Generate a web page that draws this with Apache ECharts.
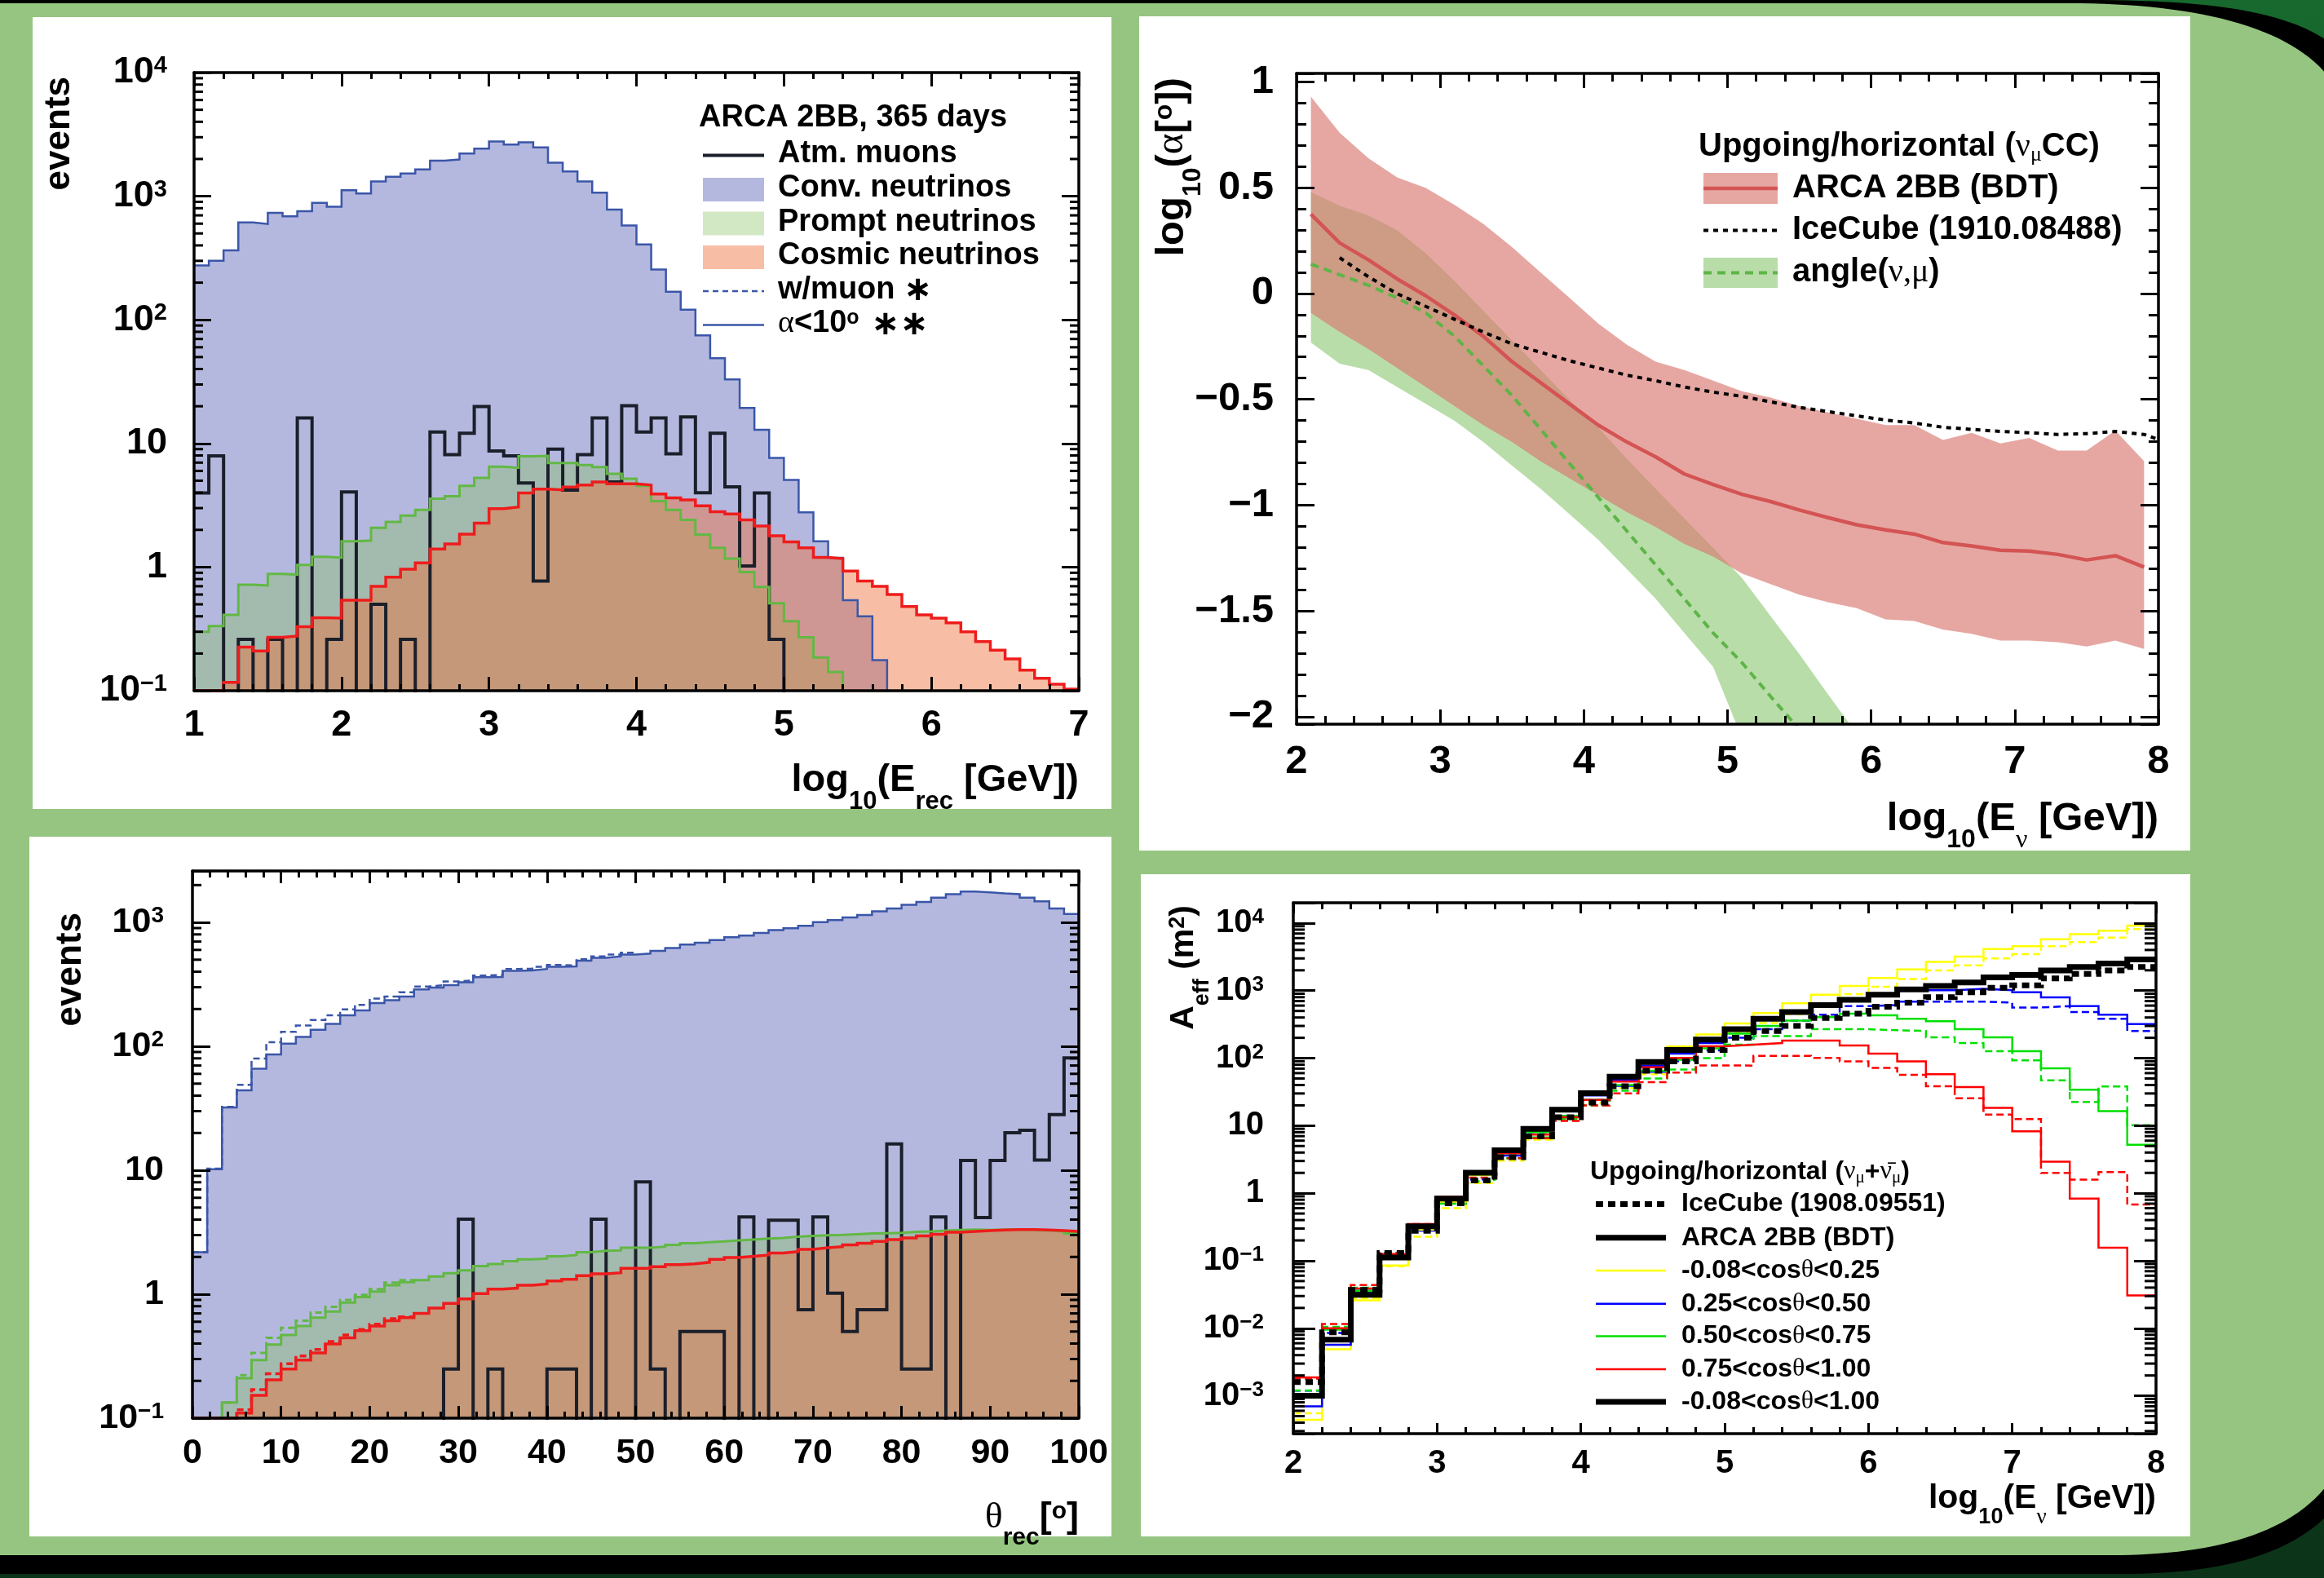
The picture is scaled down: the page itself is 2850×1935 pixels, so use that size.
<!DOCTYPE html>
<html>
<head>
<meta charset="utf-8">
<title>ARCA 2BB performance</title>
<script src="https://cdn.jsdelivr.net/npm/echarts@6.0.0/dist/echarts.min.js"></script>
<style>
  html, body { margin: 0; padding: 0; background: #95c580; }
  #chart { width: 2850px; height: 1935px; }
</style>
</head>
<body>
<div id="chart"></div>
<script>
// Four ROOT-style panels on one ECharts instance: each panel is a grid with a bottom/top x axis
// and left/right y axis so the frame carries inward ticks on all four sides like the original.
const FONT = 'Liberation Sans';
const GREEK = 'Liberation Serif';
const INK = '#000';

// ---- A (top left): events vs log10(E_rec), 60 bins on [1, 7] ----
const erecRange = [1, 7];
const erecConv = [275, 300, 365, 614, 596, 734, 687, 757, 885, 822,
  1117, 1052, 1316, 1439, 1528, 1645, 1937, 1982, 2218, 2427,
  2775, 2614, 2731, 2478, 1868, 1585, 1316, 1068, 780, 579,
  407, 255, 169, 121, 75, 49, 33, 19.4, 12.9, 7.65,
  5.08, 2.77, 1.62, 1.19, 0.54, 0.40, 0.177, 0, 0, 0,
  0, 0, 0, 0, 0, 0, 0, 0, 0, 0];
const erecPrompt = [0.30, 0.333, 0.41, 0.72, 0.71, 0.88, 0.87, 1.04, 1.21, 1.19,
  1.62, 1.64, 2.08, 2.32, 2.61, 2.90, 3.57, 3.74, 4.54, 5.27,
  6.49, 6.35, 7.88, 7.94, 6.95, 6.95, 6.69, 6.45, 5.68, 5.19,
  4.54, 3.42, 2.90, 2.41, 1.83, 1.43, 1.17, 0.91, 0.69, 0.51,
  0.365, 0.27, 0.186, 0.142, 0, 0, 0, 0, 0, 0,
  0, 0, 0, 0, 0, 0, 0, 0, 0, 0];
const erecCosmic = [0.1, 0.1, 0.117, 0.225, 0.21, 0.27, 0.277, 0.33, 0.39, 0.387,
  0.54, 0.54, 0.70, 0.83, 0.96, 1.08, 1.40, 1.54, 1.85, 2.27,
  2.97, 3.06, 3.97, 4.28, 4.21, 4.44, 4.61, 4.89, 4.71, 4.71,
  4.61, 3.91, 3.63, 3.50, 3.13, 2.80, 2.69, 2.41, 2.15, 1.79,
  1.60, 1.43, 1.20, 1.17, 0.93, 0.77, 0.70, 0.60, 0.48, 0.41,
  0.387, 0.354, 0.30, 0.25, 0.213, 0.181, 0.147, 0.126, 0.113, 0.103];
const erecMuons = [3.97, 7.94, 0, 0.26, 0, 0.26, 0, 16.1, 0, 0.26,
  4.05, 0, 0.50, 0, 0.26, 0, 12.4, 8.12, 12.1, 19.9,
  8.69, 7.94, 4.79, 0.77, 9.0, 4.2, 8.12, 16.1, 4.89, 20.2,
  12.4, 16.1, 8.24, 16.4, 4.0, 12.1, 4.46, 1.02, 3.97, 0.26,
  0, 0, 0, 0, 0, 0, 0, 0, 0, 0,
  0, 0, 0, 0, 0, 0, 0, 0, 0, 0];

// ---- C (bottom left): events vs reconstructed zenith, 60 bins on [0, 100] deg ----
const thetaRange = [0, 100];
const thetaConv = [2.18, 10.2, 32.1, 44.2, 66, 86, 105, 119, 136, 152,
  178, 195, 223, 236, 252, 288, 298, 312, 329, 361,
  363, 407, 410, 421, 438, 441, 491, 518, 532, 550,
  561, 588, 620, 663, 686, 719, 759, 784, 822, 867,
  896, 939, 1004, 1045, 1096, 1148, 1227, 1295, 1384, 1460,
  1581, 1691, 1773, 1750, 1715, 1691, 1581, 1479, 1295, 1171];
// "w/muon" variants, only where they separate from the alpha<10 curves
const thetaConvMu = [2.18, 10.3, 32.5, 48.9, 79.6, 108, 131, 147, 163, 178,
  199, 216, 243, 252, 273, 304, 312, 334, 340, 373,
  376, 421, 424, 438, 453, 450, 504, 532, 550, 569];
const thetaPrompt = [0, 0, 0.134, 0.210, 0.294, 0.392, 0.469, 0.554, 0.647, 0.725,
  0.857, 0.947, 1.05, 1.18, 1.25, 1.30, 1.39, 1.48, 1.56, 1.69,
  1.75, 1.85, 1.91, 1.94, 2.02, 2.07, 2.18, 2.24, 2.26, 2.37,
  2.37, 2.42, 2.50, 2.58, 2.63, 2.67, 2.72, 2.76, 2.81, 2.85,
  2.91, 2.95, 2.99, 3.01, 3.05, 3.09, 3.11, 3.13, 3.19, 3.21,
  3.26, 3.30, 3.32, 3.30, 3.32, 3.34, 3.30, 3.26, 3.21, 3.09];
const thetaPromptMu = [0, 0, 0.134, 0.222, 0.336, 0.445, 0.536, 0.612, 0.710, 0.79, 0.90, 0.99, 1.10, 1.24, 1.30];
const thetaCosmic = [0.1, 0.1, 0.1, 0.110, 0.153, 0.204, 0.249, 0.294, 0.336, 0.397,
  0.445, 0.508, 0.554, 0.612, 0.647, 0.70, 0.774, 0.845, 0.916, 1.01,
  1.10, 1.12, 1.18, 1.21, 1.28, 1.32, 1.41, 1.46, 1.49, 1.62,
  1.62, 1.67, 1.73, 1.76, 1.81, 1.91, 1.98, 2.02, 2.07, 2.15,
  2.21, 2.30, 2.37, 2.42, 2.50, 2.58, 2.67, 2.76, 2.85, 2.95,
  3.05, 3.16, 3.21, 3.26, 3.30, 3.32, 3.32, 3.30, 3.26, 3.21];
const thetaCosmicMu = [0.1, 0.1, 0.1, 0.117, 0.170, 0.228, 0.275, 0.318, 0.359, 0.416, 0.469, 0.519, 0.574, 0.634, 0.658];
const thetaMuons = [0, 0, 0, 0, 0, 0, 0, 0, 0, 0,
  0, 0, 0, 0, 0, 0, 0, 0.249, 4.03, 0,
  0.249, 0, 0, 0, 0.249, 0.249, 0, 4.03, 0, 0,
  8.05, 0.249, 0, 0.5, 0.5, 0.5, 0, 4.2, 0, 3.95,
  3.95, 0.75, 4.2, 1.02, 0.5, 0.75, 0.75, 16.3, 0.249, 0.249,
  4.2, 0, 12.0, 4.15, 12.0, 20.1, 21.0, 12.1, 28.1, 80.5];

// ---- B (top right): log10(alpha/deg) vs log10(E_nu) ----
const resE = [2.1, 2.3, 2.5, 2.7, 2.9, 3.1, 3.3, 3.5, 3.7, 3.9, 4.1, 4.3, 4.5, 4.7, 4.9,
  5.1, 5.3, 5.5, 5.7, 5.9, 6.1, 6.3, 6.5, 6.7, 6.9, 7.1, 7.3, 7.5, 7.7, 7.9];
const arcaMedian = [0.375, 0.239, 0.159, 0.069, -0.011, -0.102, -0.202, -0.322, -0.422, -0.522,
  -0.622, -0.702, -0.772, -0.853, -0.903, -0.949, -0.983, -1.023, -1.059, -1.093,
  -1.117, -1.137, -1.177, -1.193, -1.213, -1.217, -1.233, -1.259, -1.239, -1.293];
const arcaUpper = [0.930, 0.760, 0.639, 0.549, 0.499, 0.419, 0.329, 0.219, 0.099, -0.021,
  -0.142, -0.242, -0.322, -0.362, -0.412, -0.462, -0.492, -0.532, -0.562, -0.592,
  -0.622, -0.622, -0.692, -0.658, -0.708, -0.682, -0.742, -0.742, -0.648, -0.792];
const arcaLower = [-0.092, -0.182, -0.262, -0.352, -0.442, -0.532, -0.622, -0.702, -0.793, -0.873,
  -0.953, -1.033, -1.103, -1.183, -1.243, -1.323, -1.373, -1.423, -1.459, -1.487,
  -1.540, -1.548, -1.588, -1.608, -1.640, -1.640, -1.648, -1.668, -1.640, -1.680];
// angle(nu, mu) band uses the first 20 energies, its median the first 18
const angleUpper = [0.479, 0.415, 0.369, 0.299, 0.189, 0.059, -0.082, -0.222, -0.362, -0.502,
  -0.632, -0.782, -0.923, -1.063, -1.203, -1.343, -1.524, -1.704, -1.894, -2.08];
const angleLower = [-0.232, -0.332, -0.362, -0.442, -0.522, -0.602, -0.702, -0.813, -0.923, -1.043,
  -1.163, -1.303, -1.443, -1.604, -1.764, -2.10, -2.30, -2.50, -2.70, -2.90];
const angleMedian = [0.139, 0.089, 0.039, -0.021, -0.092, -0.202, -0.342, -0.482, -0.642, -0.803,
  -0.963, -1.123, -1.283, -1.443, -1.604, -1.744, -1.904, -2.06];
const icecubeResE = [2.3, 2.5, 2.7, 2.9, 3.1, 3.3, 3.5, 3.7, 3.9, 4.1, 4.3, 4.5, 4.7, 4.9, 5.1,
  5.3, 5.5, 5.7, 5.9, 6.1, 6.3, 6.5, 6.7, 6.9, 7.1, 7.3, 7.5, 7.7, 7.9, 8.0];
const icecubeRes = [0.169, 0.079, -0.001, -0.061, -0.122, -0.182, -0.238, -0.278, -0.318, -0.352,
  -0.386, -0.412, -0.442, -0.466, -0.486, -0.512, -0.538, -0.558, -0.578, -0.598,
  -0.612, -0.632, -0.642, -0.652, -0.658, -0.666, -0.662, -0.652, -0.666, -0.69];

// ---- D (bottom right): effective area (m^2), 30 bins on [2, 8] ----
const aeffRange = [2, 8];
const aeffIceAll = [1.6e-3, 8.7e-3, 0.037, 0.130, 0.277, 0.71, 1.55, 3.41, 6.93, 13.3,
  22.0, 38.3, 65.1, 89.5, 132, 200, 253, 301, 395, 455, 577, 664, 802, 946, 1103, 1197, 1516, 1767, 1990, 2239];
const aeffArcaAll = [1.0e-3, 6.8e-3, 0.0313, 0.112, 0.323, 0.83, 2.01, 4.32, 8.98, 17.2,
  30.3, 53.3, 87.5, 132, 188, 268, 382, 483, 612, 730, 871, 1040, 1170, 1316, 1570, 1706, 1990, 2239, 2518, 2897];
const aeffYellow = [4.4e-4, 4.9e-3, 0.026, 0.085, 0.29, 0.75, 1.85, 4.0, 8.5, 17,
  31, 55, 93, 149, 224, 327, 466, 649, 871, 1170, 1535, 2061, 2672, 3186, 4130, 4538, 5747, 6860, 7710, 9210];
const aeffYellowIce = [5.5e-4, 5.7e-3, 0.028, 0.083, 0.227, 0.60, 1.41, 3.03, 6.2, 12.5,
  21.7, 36, 58, 93, 140, 240, 330, 450, 650, 891, 1142, 1481, 1990, 2373, 3004, 3459, 4538, 5228, 6095, 8185];
const aeffBlue = [7.0e-4, 5.7e-3, 0.033, 0.119, 0.32, 0.83, 2.0, 4.3, 9.0, 17,
  28, 48, 77.6, 117, 167, 268, 369, 483, 634, 730, 871, 1016, 1016, 1064, 1016, 946, 793, 590, 440, 320];
const aeffBlueIce = [1.19e-3, 8.5e-3, 0.036, 0.13, 0.28, 0.71, 1.6, 3.6, 7.5, 13.8,
  24, 39, 63, 90, 130, 200, 268, 360, 440, 590, 611, 688, 688, 688, 664, 563, 590, 483, 382, 253];
const aeffGreen = [1.0e-3, 9.5e-3, 0.036, 0.12, 0.31, 0.85, 1.9, 3.9, 8, 14,
  24, 40, 65, 95, 140, 230, 300, 360, 405, 455, 430, 382, 352, 268, 204, 127, 70.6, 34, 16.4, 5.2];
const aeffGreenIce = [1.2e-3, 0.0105, 0.040, 0.13, 0.30, 0.70, 1.5, 3.3, 6.7, 12.5,
  20, 33, 50, 68, 100, 158, 212, 212, 268, 268, 259, 253, 204, 167, 127, 93, 47, 22.5, 38, 10.2];
const aeffRed = [1.87e-3, 0.010, 0.0387, 0.126, 0.35, 0.88, 2.0, 3.9, 7.4, 13.3,
  24, 45, 73, 101, 150, 158, 167, 182, 182, 154, 117, 89.5, 57.8, 37.4, 18.4, 8.28, 2.93, 0.83, 0.156, 0.0306];
const aeffRedIce = [1.8e-3, 0.0116, 0.0436, 0.13, 0.35, 0.78, 1.7, 3.3, 6.5, 11.8,
  20, 30, 44, 61, 78, 77.6, 108, 108, 101, 89.5, 71.6, 56.5, 38.3, 25.4, 14.6, 12.5, 2.0, 1.59, 2.05, 0.68];

// Plot frames in page pixels, A B C D
const frames = [
  {left: 238, top: 89, width: 1085, height: 758},
  {left: 1590, top: 90, width: 1057, height: 798},
  {left: 236, top: 1068, width: 1087, height: 671},
  {left: 1586, top: 1107, width: 1058, height: 651}
];
const resYRange = [-2.035, 1.04];

function binEdges(range, n) {
  const w = (range[1] - range[0]) / n;
  return Array.from({length: n + 1}, (_, i) => +(range[0] + i * w).toFixed(6));
}
// ROOT histogram outline: step from each low edge, repeat the last value at the upper edge.
// Empty bins go far below the log axis so the outline drops out of the frame.
function stepData(edges, vals) {
  const pts = vals.map((v, i) => [edges[i], v > 0 ? v : 1e-6]);
  pts.push([edges[vals.length], pts[pts.length - 1][1]]);
  return pts;
}
function hist(gi, edges, vals, o) {
  const s = {
    type: 'line', xAxisIndex: 2 * gi, yAxisIndex: 2 * gi, step: 'end', symbol: 'none',
    data: stepData(edges, vals), silent: true, clip: true,
    lineStyle: {color: o.color, width: o.width, type: o.dash || 'solid', join: 'miter', cap: 'butt'}
  };
  if (o.fill) s.areaStyle = {color: o.fill, opacity: 1, origin: 'start'};
  return s;
}
const zip = (xs, ys) => ys.map((y, i) => [xs[i], y]);
function curve(gi, xs, ys, o) {
  return {type: 'line', xAxisIndex: 2 * gi, yAxisIndex: 2 * gi, data: zip(xs, ys), symbol: 'none',
    silent: true, clip: true, lineStyle: {color: o.color, width: o.width, type: o.dash || 'solid'}};
}
// cut a data-space polygon at the bottom of the frame (Sutherland-Hodgman, one edge)
function clipBelow(poly, ymin) {
  const out = [];
  for (let i = 0; i < poly.length; i++) {
    const a = poly[i], b = poly[(i + 1) % poly.length];
    const aIn = a[1] >= ymin, bIn = b[1] >= ymin;
    if (aIn) out.push(a);
    if (aIn !== bIn) {
      const t = (ymin - a[1]) / (b[1] - a[1]);
      out.push([a[0] + t * (b[0] - a[0]), ymin]);
    }
  }
  return out;
}
// filled band between two curves, drawn as one polygon through the axis scales
function band(gi, xs, lo, hi, fill) {
  const poly = clipBelow(zip(xs, hi).concat(zip(xs, lo).reverse()), resYRange[0]);
  return {
    type: 'custom', xAxisIndex: 2 * gi, yAxisIndex: 2 * gi, silent: true, clip: true,
    data: [[xs[0], hi[0]]],
    renderItem: (params, api) => ({
      type: 'polygon', shape: {points: poly.map(p => api.coord(p))}, style: {fill}
    })
  };
}
// ROOT log axes carry minor ticks at 2..9 x 10^n on both sides
function logMinorTicks(gi, xr, yr, len) {
  const data = [];
  for (let e = Math.floor(Math.log10(yr[0])); e < Math.ceil(Math.log10(yr[1])); e++) {
    for (let k = 2; k <= 9; k++) {
      const v = k * Math.pow(10, e);
      if (v > yr[0] && v < yr[1]) data.push([xr[0], v]);
    }
  }
  return {
    type: 'custom', xAxisIndex: 2 * gi, yAxisIndex: 2 * gi, data, z: 12, silent: true,
    renderItem: (p, api) => {
      const a = api.coord([xr[0], api.value(1)]);
      const b = api.coord([xr[1], api.value(1)]);
      const st = {stroke: INK, lineWidth: 3};
      return {type: 'group', children: [
        {type: 'line', shape: {x1: a[0], y1: a[1], x2: a[0] + len, y2: a[1]}, style: st},
        {type: 'line', shape: {x1: b[0], y1: b[1], x2: b[0] - len, y2: b[1]}, style: st}
      ]};
    }
  };
}

// ---- axes ----
const axisLine = {show: true, onZero: false, lineStyle: {color: INK, width: 3.5}};
function xPair(gi, o) {
  const base = {
    gridIndex: gi, type: 'value', min: o.min, max: o.max, interval: o.interval, z: 10,
    axisLine, splitLine: {show: false},
    axisTick: {show: true, inside: true, length: o.tick, lineStyle: {color: INK, width: 3}},
    minorTick: {show: true, splitNumber: o.minor, length: o.minorTick, lineStyle: {color: INK, width: 3}}
  };
  return [
    Object.assign({}, base, {position: 'bottom', axisLabel: {show: true, margin: o.margin, color: INK,
      fontFamily: FONT, fontWeight: 'bold', fontSize: o.font}}),
    Object.assign({}, base, {position: 'top', axisLabel: {show: false}})
  ];
}
function powFmt(v) {
  const l = Math.log10(v), e = Math.round(l);
  if (Math.abs(l - e) > 1e-6) return '';
  if (e === 0) return '{b|1}';
  if (e === 1) return '{b|10}';
  return '{b|10}{s|' + (e < 0 ? '\u2212' + (-e) : e) + '}';
}
function powRich(F) {
  return {
    b: {fontSize: F, fontFamily: FONT, fontWeight: 'bold', color: INK, lineHeight: F, verticalAlign: 'bottom'},
    s: {fontSize: Math.round(F * 0.64), fontFamily: FONT, fontWeight: 'bold', color: INK,
      lineHeight: Math.round(F * 0.42), verticalAlign: 'top'}
  };
}
function yPair(gi, o) {
  const base = {
    gridIndex: gi, type: o.log ? 'log' : 'value', min: o.min, max: o.max, splitNumber: o.split, z: 10,
    axisLine, splitLine: {show: false},
    axisTick: {show: true, inside: true, length: o.tick, lineStyle: {color: INK, width: 3}},
    minorTick: o.log ? {show: false}
      : {show: true, splitNumber: 5, length: o.minorTick, lineStyle: {color: INK, width: 3}}
  };
  if (o.log) base.logBase = 10;
  const label = o.log
    ? {show: true, margin: o.margin, formatter: powFmt, rich: powRich(o.font)}
    : {show: true, margin: o.margin, color: INK, fontFamily: FONT, fontWeight: 'bold', fontSize: o.font,
       formatter: v => Math.abs(v * 2 - Math.round(v * 2)) > 1e-6 ? '' : (v < 0 ? '\u2212' + (-v) : String(v))};
  return [
    Object.assign({}, base, {position: 'left', axisLabel: label}),
    Object.assign({}, base, {position: 'right', axisLabel: {show: false}})
  ];
}

const xAxis = [].concat(
  xPair(0, {min: 1, max: 7, interval: 1, minor: 5, tick: 17, minorTick: 8, margin: 20, font: 45}),
  xPair(1, {min: 2, max: 8, interval: 1, minor: 5, tick: 18, minorTick: 10, margin: 22, font: 49}),
  xPair(2, {min: 0, max: 100, interval: 10, minor: 5, tick: 15, minorTick: 8, margin: 22, font: 43}),
  xPair(3, {min: 2, max: 8, interval: 1, minor: 5, tick: 13, minorTick: 8, margin: 17, font: 40})
);
const yAxis = [].concat(
  yPair(0, {log: true, min: 0.1, max: 1e4, split: 5, tick: 21, margin: 33, font: 45}),
  yPair(1, {min: resYRange[0], max: resYRange[1], split: 6, tick: 22, minorTick: 12, margin: 28, font: 49}),
  yPair(2, {log: true, min: 0.1, max: 2600, split: 5, tick: 22, margin: 35, font: 43}),
  yPair(3, {log: true, min: 2.75e-4, max: 2e4, split: 8, tick: 27, margin: 36, font: 40})
);

// ---- series ----
const BLUE = '#3a56a8', GREEN = '#62b844', RED = '#ee1c1c', MUON = '#1b1f2a';
const CONV_FILL = '#b5b8de', PROMPT_FILL = 'rgba(133,193,96,0.37)', COSMIC_FILL = 'rgba(239,110,55,0.45)';
const ANGLE_FILL = 'rgba(120,190,90,0.52)', ARCA_FILL = 'rgba(216,120,112,0.65)';
const eA = binEdges(erecRange, erecConv.length);
const eC = binEdges(thetaRange, thetaConv.length);
const eD = binEdges(aeffRange, aeffArcaAll.length);

const series = [
  // A
  hist(0, eA, erecConv, {color: BLUE, width: 2.5, fill: CONV_FILL}),
  hist(0, eA, erecMuons, {color: MUON, width: 4}),
  hist(0, eA, erecPrompt, {color: GREEN, width: 3, fill: PROMPT_FILL}),
  hist(0, eA, erecCosmic, {color: RED, width: 3.5, fill: COSMIC_FILL}),
  logMinorTicks(0, erecRange, [0.1, 1e4], 11),
  // B
  band(1, resE.slice(0, angleUpper.length), angleLower, angleUpper, ANGLE_FILL),
  curve(1, resE.slice(0, angleMedian.length), angleMedian, {color: '#5db547', width: 4, dash: [10, 7]}),
  band(1, resE, arcaLower, arcaUpper, ARCA_FILL),
  curve(1, resE, arcaMedian, {color: '#d45454', width: 4.5}),
  curve(1, icecubeResE, icecubeRes, {color: INK, width: 4, dash: [6, 6]}),
  // C
  hist(2, eC, thetaConv, {color: BLUE, width: 2.5, fill: CONV_FILL}),
  hist(2, eC, thetaConvMu, {color: BLUE, width: 2.5, dash: [8, 5]}),
  hist(2, eC, thetaMuons, {color: MUON, width: 4}),
  hist(2, eC, thetaPrompt, {color: GREEN, width: 3, fill: PROMPT_FILL}),
  hist(2, eC, thetaPromptMu, {color: GREEN, width: 3, dash: [8, 5]}),
  hist(2, eC, thetaCosmic, {color: RED, width: 3.5, fill: COSMIC_FILL}),
  hist(2, eC, thetaCosmicMu, {color: RED, width: 3.5, dash: [8, 5]}),
  logMinorTicks(2, thetaRange, [0.1, 2600], 11),
  // D
  hist(3, eD, aeffYellowIce, {color: '#ffff00', width: 2.5, dash: [9, 5]}),
  hist(3, eD, aeffBlueIce, {color: '#0000ff', width: 2.5, dash: [9, 5]}),
  hist(3, eD, aeffGreenIce, {color: '#00e000', width: 2.5, dash: [9, 5]}),
  hist(3, eD, aeffRedIce, {color: '#ff0000', width: 2.5, dash: [9, 5]}),
  hist(3, eD, aeffYellow, {color: '#ffff00', width: 2.5}),
  hist(3, eD, aeffBlue, {color: '#0000ff', width: 2.5}),
  hist(3, eD, aeffGreen, {color: '#00e000', width: 2.5}),
  hist(3, eD, aeffRed, {color: '#ff0000', width: 2.5}),
  hist(3, eD, aeffIceAll, {color: INK, width: 7, dash: [9, 6]}),
  hist(3, eD, aeffArcaAll, {color: INK, width: 7}),
  logMinorTicks(3, aeffRange, [2.75e-4, 2e4], 14)
];

// ---- decoration: background, pads, titles, legends ----
function cubic(p0, p1, p2, p3, n) {
  const pts = [];
  for (let i = 1; i <= n; i++) {
    const t = i / n, u = 1 - t;
    pts.push([u * u * u * p0[0] + 3 * u * u * t * p1[0] + 3 * u * t * t * p2[0] + t * t * t * p3[0],
              u * u * u * p0[1] + 3 * u * u * t * p1[1] + 3 * u * t * t * p2[1] + t * t * t * p3[1]]);
  }
  return pts;
}
const blackEdge = [[0, 0], [2560, 0], ...cubic([2560, 0], [2725, 0], [2840, 16], [2885, 80], 30),
  [2885, 1815], ...cubic([2885, 1815], [2840, 1905], [2730, 1930], [2600, 1930], 30), [0, 1930]];
const greenFace = [[0, 4], [2550, 4], ...cubic([2550, 4], [2705, 6], [2815, 36], [2860, 100], 30),
  [2860, 1812], ...cubic([2860, 1812], [2815, 1882], [2710, 1907], [2590, 1907], 30), [0, 1907]];

function richSet(F) {
  const sub = Math.round(F * 0.66);
  const tok = (size, fam, weight, lh, extra) => Object.assign({fontSize: size, fontFamily: fam,
    fontWeight: weight, fill: INK, lineHeight: lh, verticalAlign: 'top'}, extra || {});
  return {
    m: tok(F, FONT, 'bold', F),
    g: tok(F, GREEK, 'normal', F),
    s: tok(sub, FONT, 'bold', sub, {padding: [Math.round(F * 0.72), 0, 0, 0]}),
    gs: tok(sub, GREEK, 'normal', sub, {padding: [Math.round(F * 0.72), 0, 0, 0]}),
    gl: tok(sub, GREEK, 'normal', sub, {padding: [Math.round(F * 0.42), 0, 0, 0]}),
    p: tok(sub, FONT, 'bold', Math.round(F * 0.3)),
    a: tok(Math.round(F * 1.1), 'DejaVu Sans', 'bold', F)
  };
}
function gText(x, y, text, F, align, rot) {
  return {type: 'text', x, y, rotation: rot || 0, z: 60, silent: true,
    style: {text, x: 0, y: 0, fill: INK, fontSize: F, fontFamily: FONT, fontWeight: 'bold',
      align: align || 'left', verticalAlign: 'middle', rich: richSet(F)}};
}
function gLine(x1, y1, x2, y2, stroke, width, dash) {
  return {type: 'line', z: 55, silent: true, shape: {x1, y1, x2, y2},
    style: {stroke, lineWidth: width, lineDash: dash || null}};
}
function gRect(x, y, w, h, fill, z) {
  return {type: 'rect', z: z == null ? 55 : z, silent: true, shape: {x, y, width: w, height: h}, style: {fill}};
}
const NU = '\u03bd', MU = '\u03bc', ALPHA = '\u03b1', THETA = '\u03b8', STAR = '\u2217';

const graphics = [
  gRect(0, 0, 2850, 1935, {type: 'linear', x: 0, y: 0, x2: 0, y2: 1,
    colorStops: [{offset: 0, color: '#17692e'}, {offset: 1, color: '#0b3318'}]}, -30),
  {type: 'polygon', z: -29, silent: true, shape: {points: blackEdge}, style: {fill: '#000'}},
  {type: 'polygon', z: -28, silent: true, shape: {points: greenFace}, style: {fill: '#95c580'}},
  gRect(40, 21, 1323, 971, '#fff', -20),
  gRect(1397, 20, 1289, 1023, '#fff', -20),
  gRect(36, 1026, 1327, 858, '#fff', -20),
  gRect(1399, 1072, 1287, 812, '#fff', -20),

  // axis titles
  gText(1323, 957, '{m|log}{s|10}{m|(E}{s|rec}{m| [GeV])}', 47, 'right'),
  gText(73, 94, 'events', 44, 'right', Math.PI / 2),
  gText(2647, 1004, '{m|log}{s|10}{m|(E}{gs|' + NU + '}{m| [GeV])}', 49, 'right'),
  gText(1437, 95, '{m|log}{s|10}{m|(}{g|' + ALPHA + '}{m|[}{p|o}{m|])}', 49, 'right', Math.PI / 2),
  gText(1323, 1861, '{g|' + THETA + '}{s|rec}{m|[}{p|o}{m|]}', 45, 'right'),
  gText(87, 1119, 'events', 44, 'right', Math.PI / 2),
  gText(2644, 1838, '{m|log}{s|10}{m|(E}{gs|' + NU + '}{m| [GeV])}', 41, 'right'),
  gText(1452, 1110, '{m|A}{s|eff}{m| (m}{p|2}{m|)}', 41, 'right', Math.PI / 2),

  // legend A
  gText(857, 145, 'ARCA 2BB, 365 days', 38),
  gLine(862, 190.6, 937, 190.6, MUON, 4),
  gRect(862, 218, 75, 29, CONV_FILL),
  gRect(862, 259.5, 75, 29, '#d2e8c4'),
  gRect(862, 301, 75, 29, '#f8bea5'),
  gLine(862, 357, 937, 357, BLUE, 2.5, [7, 5]),
  gLine(862, 398.5, 937, 398.5, BLUE, 2.5),
  gText(954, 189, 'Atm. muons', 38),
  gText(954, 231, 'Conv. neutrinos', 38),
  gText(954, 272.5, 'Prompt neutrinos', 38),
  gText(954, 314, 'Cosmic neutrinos', 38),
  gText(954, 355.5, '{m|w/muon }{a|' + STAR + '}', 38),
  gText(954, 397, '{g|' + ALPHA + '}{m|<10}{p|o}{a| ' + STAR + STAR + '}', 38),

  // legend B
  gText(2083, 180, '{m|Upgoing/horizontal (}{g|' + NU + '}{gl|' + MU + '}{m|CC)}', 40),
  gRect(2089, 212, 91, 38, ARCA_FILL),
  gLine(2089, 231, 2180, 231, '#d45454', 4.5),
  gLine(2089, 282.5, 2180, 282.5, INK, 4, [6, 6]),
  gRect(2089, 316, 91, 37, ANGLE_FILL),
  gLine(2089, 334.5, 2180, 334.5, '#5db547', 4, [10, 7]),
  gText(2198, 231, 'ARCA 2BB (BDT)', 40),
  gText(2198, 282, 'IceCube (1910.08488)', 40),
  gText(2198, 334, '{m|angle(}{g|' + NU + ',' + MU + '}{m|)}', 40),

  // legend D
  gText(1950, 1437, '{m|Upgoing/horizontal (}{g|' + NU + '}{gl|' + MU + '}{m|+}{g|' + NU + '\u0304}{gl|' + MU + '}{m|)}', 32),
  gLine(1957, 1476.6, 2043, 1476.6, INK, 7, [9, 6]),
  gLine(1957, 1517.7, 2043, 1517.7, INK, 7),
  gLine(1957, 1558, 2043, 1558, '#ffff00', 2.5),
  gLine(1957, 1598.7, 2043, 1598.7, '#0000ff', 2.5),
  gLine(1957, 1638.6, 2043, 1638.6, '#00e000', 2.5),
  gLine(1957, 1678.9, 2043, 1678.9, '#ff0000', 2.5),
  gLine(1957, 1719, 2043, 1719, INK, 7),
  gText(2062, 1476.6, 'IceCube (1908.09551)', 32),
  gText(2062, 1517.7, 'ARCA 2BB (BDT)', 32),
  gText(2062, 1558, '{m|-0.08<cos}{g|' + THETA + '}{m|<0.25}', 32),
  gText(2062, 1598.7, '{m|0.25<cos}{g|' + THETA + '}{m|<0.50}', 32),
  gText(2062, 1638.6, '{m|0.50<cos}{g|' + THETA + '}{m|<0.75}', 32),
  gText(2062, 1678.9, '{m|0.75<cos}{g|' + THETA + '}{m|<1.00}', 32),
  gText(2062, 1719, '{m|-0.08<cos}{g|' + THETA + '}{m|<1.00}', 32)
];

const chart = echarts.init(document.getElementById('chart'), null, {renderer: 'canvas'});
chart.setOption({
  animation: false,
  backgroundColor: 'transparent',
  textStyle: {fontFamily: FONT},
  graphic: {elements: graphics},
  grid: frames.map(f => Object.assign({show: false, containLabel: false, outerBoundsMode: 'none'}, f)),
  xAxis,
  yAxis,
  series
});
</script>
</body>
</html>
